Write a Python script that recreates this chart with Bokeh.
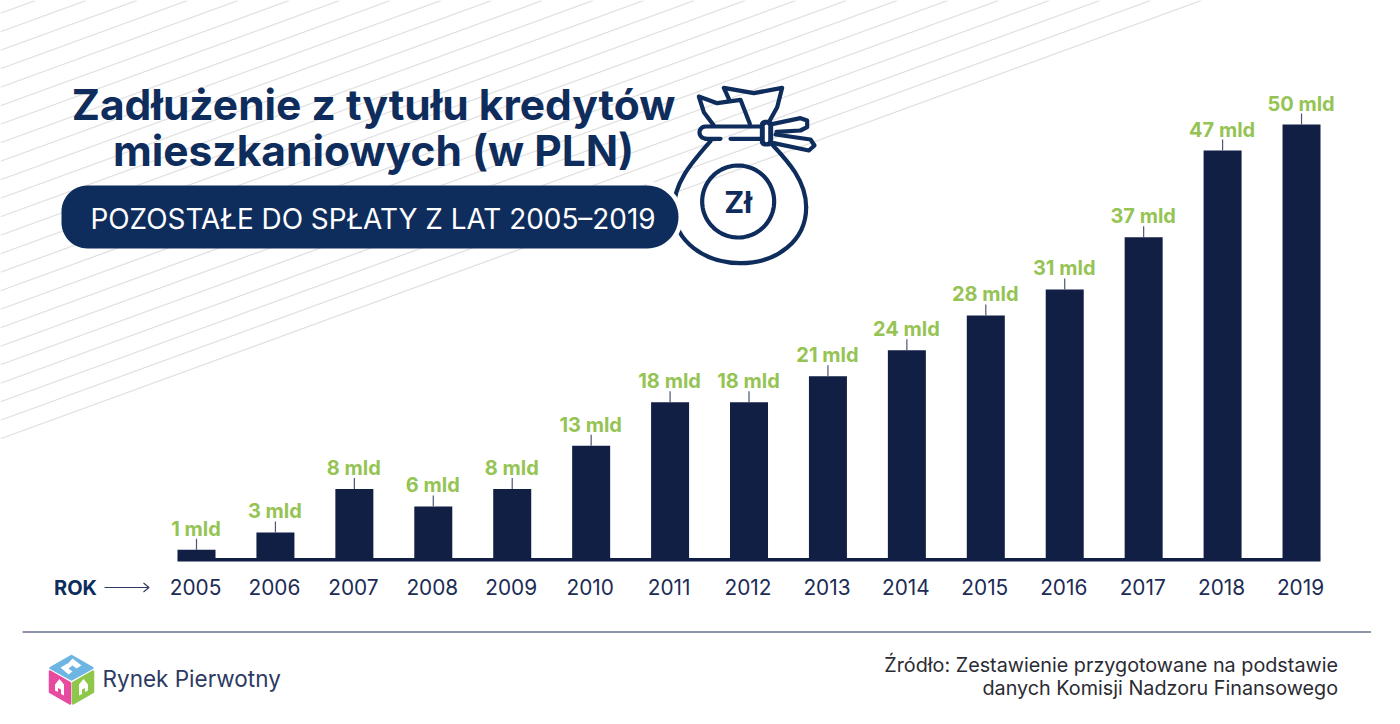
import numpy as np
from bokeh.plotting import figure
from bokeh.models import Range1d
from bokeh.core.properties import value
from bokeh.embed import file_html
from bokeh.resources import INLINE

# ---- data ----
years = [2005, 2006, 2007, 2008, 2009, 2010, 2011, 2012, 2013, 2014, 2015, 2016, 2017, 2018, 2019]
debt_bn = [1, 3, 8, 6, 8, 13, 18, 18, 21, 24, 28, 31, 37, 47, 50]
bar_labels = ["1 mld", "3 mld", "8 mld", "6 mld", "8 mld", "13 mld", "18 mld", "18 mld", "21 mld",
              "24 mld", "28 mld", "31 mld", "37 mld", "47 mld", "50 mld"]
year_labels = [str(y) for y in years]
title_lines = ["Zadłużenie z tytułu kredytów", "mieszkaniowych (w PLN)"]
subtitle = "POZOSTAŁE DO SPŁATY Z LAT 2005–2019"
source_lines = ["Źródło: Zestawienie przygotowane na podstawie", "danych Komisji Nadzoru Finansowego"]

# ---- scales ----
PX_PER_YEAR = 78.93
PX_PER_BN = 8.68
X0, Y0 = 196.0, 558.0
L, R, T, B = 0, 1384, 0, 708
NAVY = "#0f2d5c"
BAR = "#121f45"
GREEN = "#95c455"
FONT = "Inter"

p = figure(width=R - L, height=B - T, toolbar_location=None, output_backend="svg",
           x_axis_location=None, y_axis_location=None, min_border=0, outline_line_color=None,
           x_range=Range1d(2005 + (L - X0) / PX_PER_YEAR, 2005 + (R - X0) / PX_PER_YEAR),
           y_range=Range1d((Y0 - B) / PX_PER_BN, (Y0 - T) / PX_PER_BN))
p.grid.visible = False
p.background_fill_color = "white"
p.border_fill_color = "white"
p.extra_x_ranges["px"] = Range1d(L, R)
p.extra_y_ranges["px"] = Range1d(B, T)
PX = dict(x_range_name="px", y_range_name="px")


def txt(x, y, s, size, color, bold=False, align="center", font=FONT):
    p.text([x], [y], text=[s], text_font=value(font), text_font_size=value(f"{size}px"),
           text_font_style="bold" if bold else "normal", text_color=color,
           text_align=align, text_baseline="middle", **PX)


def rounded(x0, y0, x1, y1, r, r_right=None, n=14):
    rr = r if r_right is None else r_right
    xs, ys = [], []
    for cx, cy, a0, q in [(x0 + r, y0 + r, 180, r), (x1 - rr, y0 + rr, 270, rr),
                          (x1 - rr, y1 - rr, 0, rr), (x0 + r, y1 - r, 90, r)]:
        t = np.radians(np.linspace(a0, a0 + 90, n))
        xs += list(cx + q * np.cos(t))
        ys += list(cy + q * np.sin(t))
    return xs, ys


# ---- striped background ----
SLOPE = 0.365
for k in range(0, 24):
    c = 438.3 - 18.5 * k
    p.line([0, c / SLOPE], [c, 0], line_color="#dfdfdf", line_width=1.2, **PX)

# ---- title block ----
txt(373, 104, title_lines[0], 42.5, NAVY, bold=True)
txt(373, 150, title_lines[1], 42.5, NAVY, bold=True)


# ---- money bag ----
def zx(v):
    return 660 + np.asarray(v, dtype=float) / 3


def zy(v):
    return 70 + np.asarray(v, dtype=float) / 3


LW = 4.2
bag = dict(line_color=NAVY, line_width=LW, line_cap="round", line_join="round", **PX)
for s in [((150, 212), (90, 280), (38, 340), (40, 420)),
          ((40, 420), (42, 510), (130, 578), (240, 578)),
          ((240, 578), (350, 578), (437, 510), (437, 410)),
          ((437, 410), (437, 330), (380, 270), (335, 222))]:
    p.bezier(x0=[zx(s[0][0])], y0=[zy(s[0][1])], cx0=[zx(s[1][0])], cy0=[zy(s[1][1])],
             cx1=[zx(s[2][0])], cy1=[zy(s[2][1])], x1=[zx(s[3][0])], y1=[zy(s[3][1])], **bag)
# papers
p.line(zx([160, 130, 115, 170, 240, 268]), zy([165, 125, 78, 98, 88, 160]), **bag)
p.line(zx([205, 190, 280, 365, 350, 325]), zy([85, 52, 68, 52, 110, 155]), **bag)
# collar
t = np.radians(np.linspace(90, 270, 16))
cx = list(zx(135 + 18 * np.cos(t)))
cy = list(zy(186 + 18 * np.sin(t)))
p.line(cx + [zx(300)], cy + [zy(168)], **bag)
p.line([zx(135), zx(180)], [zy(205), zy(205)], **bag)
p.line([zx(210), zx(300)], [zy(205), zy(205)], **bag)
# ribbons
p.line(zx([338, 420, 440, 440, 420, 348]), zy([160, 143, 150, 170, 180, 184]), **bag)
p.line(zx([345, 450, 462, 445, 340]), zy([192, 207, 225, 240, 218]), **bag)
# knot
kx, ky = rounded(zx(298), zy(148), zx(338), zy(228), 5)
p.patch(kx, ky, fill_color=NAVY, line_color=None, **PX)
p.line([zx(318), zx(318)], [zy(167), zy(210)], line_color="white", line_width=3.4, line_cap="round", **PX)
# coin
t = np.radians(np.linspace(0, 360, 90))
p.line(list(zx(233 + 108 * np.cos(t))), list(zy(393 + 108 * np.sin(t))), **bag)
txt(zx(233), zy(394), "Zł", 30, NAVY, bold=True)

# ---- subtitle pill (in front of the bag, with a white halo at its right end) ----
t = np.radians(np.linspace(-90, 90, 30))
p.patch(list(646.5 + 36 * np.cos(t)), list(216.5 + 36 * np.sin(t)), fill_color="white", line_color=None, **PX)
sx, sy = rounded(61, 185, 678, 248, 26, 31.5)
p.patch(sx, sy, fill_color=NAVY, line_color=None, **PX)
txt(372.5, 218, subtitle, 27.9, "white")

# ---- bars ----
p.vbar(x=years, top=debt_bn, bottom=0, width=38 / PX_PER_YEAR, fill_color=BAR, line_color=None)
p.quad(left=[177], right=[1320], top=[557.5], bottom=[561], fill_color=BAR, line_color=None, **PX)
p.segment(x0=years, x1=years, y0=debt_bn, y1=[v + 11 / PX_PER_BN for v in debt_bn],
          line_color="#4b5575", line_width=1.2)
p.text(x=years, y=debt_bn, text=bar_labels, y_offset=-21, x_offset=-0.5,
       text_font=value(FONT), text_font_size=value("20px"), text_font_style="bold",
       text_color=GREEN, text_align="center", text_baseline="middle")
p.text(x=years, y=[(Y0 - 586.5) / PX_PER_BN] * len(years), text=year_labels, x_offset=-1,
       text_font=value(FONT), text_font_size=value("20.8px"), text_color="#1c2c55",
       text_align="center", text_baseline="middle")

# ---- ROK arrow ----
txt(75, 587, "ROK", 20, NAVY, bold=True)
p.line([104, 148], [587, 587], line_color="#2d3a63", line_width=1.1, **PX)
p.line([143, 148.5, 143], [582.5, 587, 591.5], line_color="#2d3a63", line_width=1.1, **PX)

# ---- footer ----
p.line([22, 1370.5], [631.5, 631.5], line_color="#666f8e", line_width=1.5, **PX)
txt(1337.5, 664.5, source_lines[0], 19.8, "#2b2b33", align="right")
txt(1337.5, 687, source_lines[1], 19.8, "#2b2b33", align="right")

# ---- logo ----
logo = dict(line_join="round", line_width=2.5, **PX)
p.patch([71, 92, 71, 50], [655.5, 667.5, 679, 667.5], fill_color="#6db5e3", line_color="#6db5e3", **logo)
p.patch([49.5, 69.5, 69.5, 49.5], [671, 682.5, 703, 691.5], fill_color="#e64b9f", line_color="#e64b9f", **logo)
p.patch([72.5, 92.5, 92.5, 72.5], [682.5, 671, 691.5, 703], fill_color="#8fc74a", line_color="#8fc74a", **logo)
white = dict(fill_color="white", line_color=None, **PX)
p.patch([54.5, 59, 63.5, 63.5, 60.5, 60.5, 57.5, 57.5, 54.5], [684, 678.5, 684, 695, 693.5, 689, 687.5, 691.5, 690], **white)
p.patch([87.5, 83, 78.5, 78.5, 81.5, 81.5, 84.5, 84.5, 87.5], [684, 678.5, 684, 695, 693.5, 689, 687.5, 691.5, 690], **white)
p.patch([60, 68, 72, 81, 76, 72, 68, 72, 68], [667, 662.5, 658, 665, 668, 665, 668, 671, 674], **white)
txt(102, 678, "Rynek Pierwotny", 22.5, "#2d3a63", align="left")

open("out.html", "w").write(file_html(p, INLINE))
